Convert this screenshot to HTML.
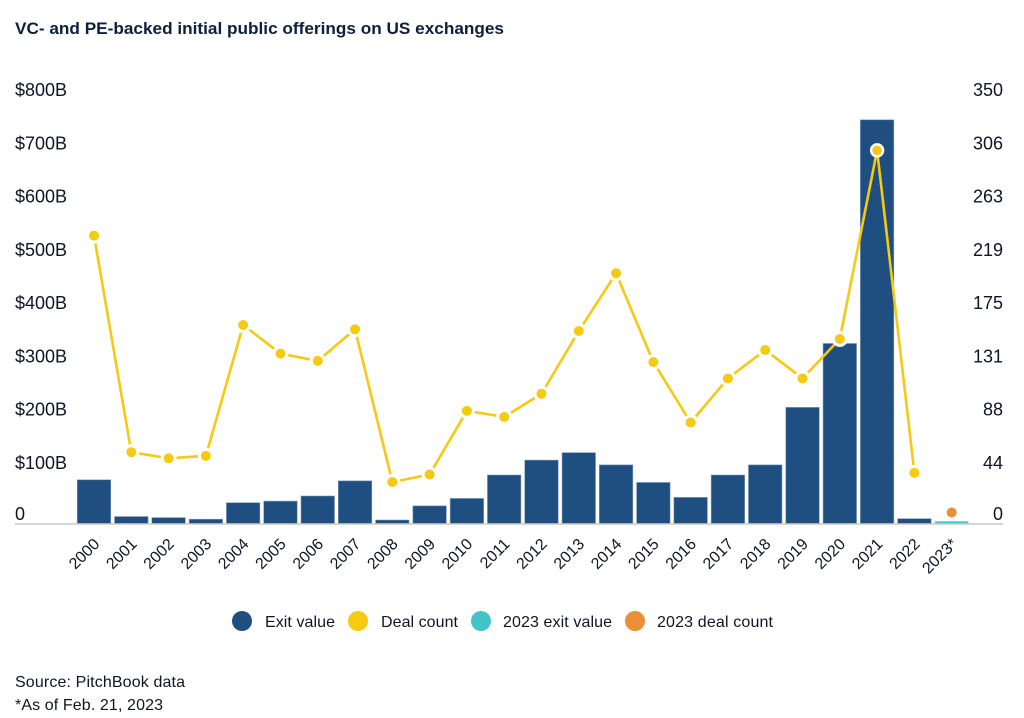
<!DOCTYPE html>
<html>
<head>
<meta charset="utf-8">
<title>VC- and PE-backed initial public offerings on US exchanges</title>
<style>
html,body{margin:0;padding:0;background:#fff;width:1024px;height:718px;overflow:hidden}
svg{display:block;font-family:"Liberation Sans",sans-serif}
</style>
</head>
<body>
<svg id="chart" width="1024" height="718" viewBox="0 0 1024 718" xmlns="http://www.w3.org/2000/svg">
  <rect x="0" y="0" width="1024" height="718" fill="#fff"/>
  <text x="15" y="34" font-size="17" font-weight="bold" fill="#0d1f3c" textLength="489" lengthAdjust="spacingAndGlyphs">VC- and PE-backed initial public offerings on US exchanges</text>
  <g id="left-axis"></g>
  <g id="right-axis"></g>
  <g id="bars"></g>
  <rect x="15" y="523.2" width="988" height="1.6" fill="#cccccc"/>
  <g id="line"></g>
  <g id="x-axis"></g>
  <g font-size="16" fill="#0d1526">
    <g>
      <circle cx="242" cy="621" r="10" fill="#1f4e80"/>
      <text x="265" y="627" textLength="70">Exit value</text>
    </g>
    <g>
      <circle cx="358" cy="621" r="10" fill="#f6c913"/>
      <text x="381" y="627" textLength="77">Deal count</text>
    </g>
    <g>
      <circle cx="481" cy="621" r="10" fill="#42c4c9"/>
      <text x="503" y="627" textLength="109">2023 exit value</text>
    </g>
    <g>
      <circle cx="635" cy="621" r="10" fill="#e98f35"/>
      <text x="657" y="627" textLength="116">2023 deal count</text>
    </g>
  </g>
  <text x="15" y="687" font-size="16" fill="#0d1526" textLength="170">Source: PitchBook data</text>
  <text x="15" y="710" font-size="16" fill="#0d1526" textLength="148">*As of Feb. 21, 2023</text>
</svg>
<script>
const years = ['2000','2001','2002','2003','2004','2005','2006','2007','2008','2009','2010','2011','2012','2013','2014','2015','2016','2017','2018','2019','2020','2021','2022','2023*'];
const exitValues = [83,14,12,9,40,43,52.6,81,7.5,34,48,92,120,134,111,78,50,92,111,219,339,759,10];
const dealCounts = [237,59,54,56,163.5,140,134,160,34.5,40.7,93,88,107,158.6,206,133,83.4,119.6,143,119.6,152,307,42];
const exitValue2023 = [5];
const dealCount2023 = [9.5];
const leftTicks = [800,700,600,500,400,300,200,100,0];
const rightTicks = [350,306,263,219,175,131,88,44,0];

const NS = 'http://www.w3.org/2000/svg';
const baseY = 524;
function yLeft(v){ return baseY - v * 0.5325; }
function yRight(v){ return baseY - v * 1.217; }
function xCat(i){ return 94 + i * 37.29; }
function leftLabel(v){ return v === 0 ? '0' : '$' + v + 'B'; }
function labelY(v){ return yLeft(v) - 2 - (v === 0 ? 2 : 0); }
function make(tag, parent, attrs){
  const el = document.createElementNS(NS, tag);
  for (const k in attrs) el.setAttribute(k, attrs[k]);
  parent.appendChild(el);
  return el;
}

const leftG = document.getElementById('left-axis');
leftTicks.forEach(function(v){
  const t = make('text', leftG, {x:15, y:labelY(v), 'font-size':18, fill:'#0d1526'});
  
  
  t.textContent = leftLabel(v);
});

const rightG = document.getElementById('right-axis');
rightTicks.forEach(function(v, i){
  const t = make('text', rightG, {x:1003, y:labelY(leftTicks[i]), 'font-size':18, fill:'#0d1526', 'text-anchor':'end'});
  
  
  t.textContent = String(v);
});

const barsG = document.getElementById('bars');
const barW = 33.5;
exitValues.forEach(function(v, i){
  const y = yLeft(v);
  const r = make('rect', barsG, {x:xCat(i) - barW/2, y:y, width:barW, height:baseY - y, fill:'#1f4e80', stroke:'#7d9cbc', 'stroke-width':0.6});
  
  
});
exitValue2023.forEach(function(v){
  const y = yLeft(v);
  const r = make('rect', barsG, {x:xCat(exitValues.length) - barW/2, y:y, width:barW, height:baseY - y, fill:'#42c4c9'});
  
  
});

const lineG = document.getElementById('line');
const pts = dealCounts.map(function(v, i){ return (xCat(i)) + ',' + yRight(v); }).join(' ');
const poly = make('polyline', lineG, {points:pts, fill:'none', stroke:'#f6c913', 'stroke-width':2.6, 'stroke-linejoin':'round'});


dealCounts.forEach(function(v, i){
  const peak = v === Math.max.apply(null, dealCounts);
  const c = make('circle', lineG, {cx:xCat(i), cy:yRight(v), r:peak ? 6 : 6.5, fill:'#f6c913', stroke:'#ffffff', 'stroke-width':peak ? 2.4 : 3});
  
  
});
dealCount2023.forEach(function(v){
  const c = make('circle', lineG, {cx:xCat(dealCounts.length), cy:yRight(v), r:5, fill:'#e98f35'});
  
  
});

const xG = document.getElementById('x-axis');
years.forEach(function(label, i){
  const x = xCat(i) + 6.5;
  const y = 545;
  const t = make('text', xG, {x:x, y:y, 'font-size':16, fill:'#0d1526', 'text-anchor':'end', transform:'rotate(-45 ' + x + ' ' + y + ')'});
  
  
  t.textContent = label;
});
</script>
</body>
</html>
